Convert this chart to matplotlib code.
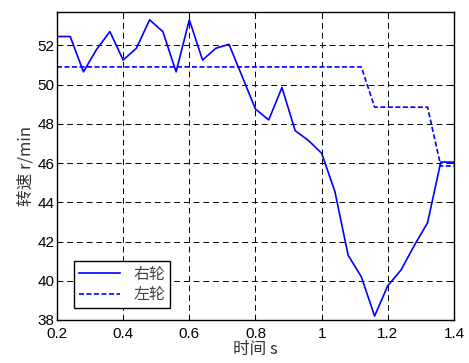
import numpy as np
import matplotlib
matplotlib.use('Agg')
import matplotlib.pyplot as plt

plt.rcParams['font.family'] = ['Liberation Sans', 'Noto Sans CJK SC', 'DejaVu Sans']

# time axis (s)
t = [0.20, 0.24, 0.28, 0.32, 0.36, 0.40, 0.44, 0.48, 0.52, 0.56, 0.60,
     0.64, 0.68, 0.72, 0.76, 0.80, 0.84, 0.88, 0.92, 0.96, 1.00,
     1.04, 1.08, 1.12, 1.16, 1.20, 1.24, 1.28, 1.32, 1.36, 1.40]

# right wheel speed (r/min)
right = [52.45, 52.45, 50.65, 51.8, 52.7, 51.25, 51.85, 53.3, 52.7, 50.65, 53.3,
         51.25, 51.85, 52.05, 50.4, 48.75, 48.2, 49.85, 47.65, 47.15, 46.5,
         44.55, 41.3, 40.2, 38.2, 39.75, 40.55, 41.8, 42.95, 46.05, 46.05]

# left wheel speed (r/min)
left = [50.9] * 24 + [48.85] * 5 + [45.85] * 2

fig = plt.figure(figsize=(4.69, 3.63), dpi=100)
ax = fig.add_axes([0.1215, 0.1185, 0.8465, 0.8485])

ax.plot(t, right, color='#0000ff', lw=1.2, label='右轮')
ax.plot(t, left, color='#0000ff', lw=1.2, ls=(0, (3, 1.5)), label='左轮')

ax.set_xlim(0.2, 1.4)
ax.set_ylim(38, 53.7)
ax.set_xticks([0.2, 0.4, 0.6, 0.8, 1.0, 1.2, 1.4])
ax.set_xticklabels(['0.2', '0.4', '0.6', '0.8', '1', '1.2', '1.4'])
ax.set_yticks(np.arange(38, 53, 2))

ax.grid(True, color='black', ls=(0, (6, 4)), lw=0.7)
ax.tick_params(direction='in', labelsize=11, length=3, top=True, right=True, pad=2)
ax.tick_params(axis='x', pad=5)
for s in ax.spines.values():
    s.set_linewidth(1.0)

ax.set_xlabel('时间 s', fontsize=12, color='#333333', labelpad=0,
              family=['Noto Sans CJK SC', 'Liberation Sans'])
ax.set_ylabel('转速 r/min', fontsize=12, color='#333333', labelpad=2,
              family=['Noto Sans CJK SC', 'Liberation Sans'])

leg = ax.legend(loc='lower left', bbox_to_anchor=(0.043, 0.039), borderaxespad=0,
                fancybox=False, framealpha=1, edgecolor='black',
                borderpad=0.3, handlelength=2.6, labelspacing=0.2,
                prop={'family': ['Noto Sans CJK SC'], 'size': 11.5})
leg.get_frame().set_linewidth(1.0)
for txt in leg.get_texts():
    txt.set_color('#444444')

fig.savefig('out.png', dpi=100)
